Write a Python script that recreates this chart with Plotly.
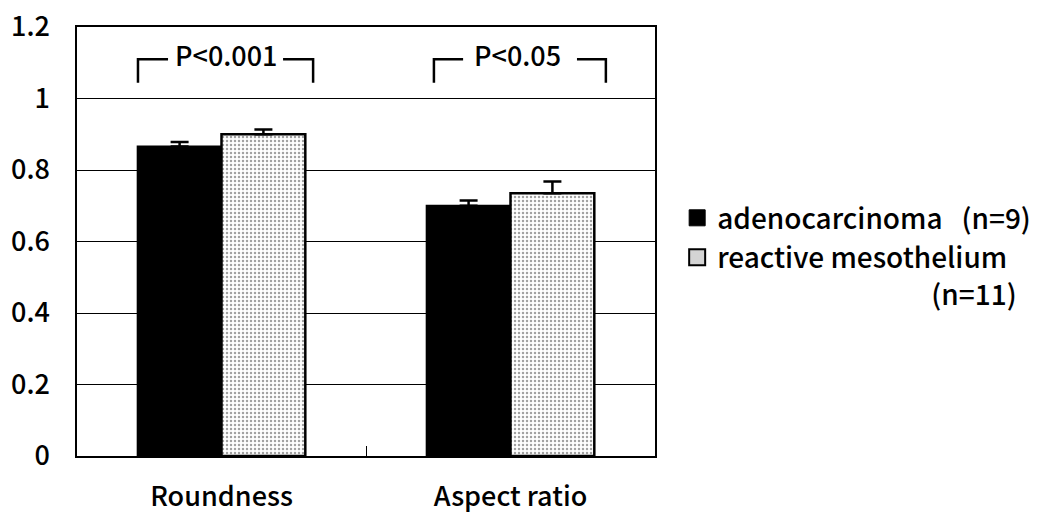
import plotly.graph_objects as go

categories = ["Roundness", "Aspect ratio"]
adeno_vals = [0.866, 0.700]
adeno_err = [0.012, 0.015]
meso_vals = [0.900, 0.735]
meso_err = [0.013, 0.033]
p_labels = ["P<0.001", "P<0.05"]
series_names = ["adenocarcinoma\u00a0\u00a0\u00a0(n=9)",
                "reactive mesothelium<br>" + "\u00a0" * 34 + "(n=11)"]
y_ticks = [0, 0.2, 0.4, 0.6, 0.8, 1.0, 1.2]
y_tick_text = ["0", "0.2", "0.4", "0.6", "0.8", "1", "1.2"]

FONT = "Noto Sans CJK JP"
W = 500

fig = go.Figure()
fig.add_trace(go.Bar(
    x=categories, y=adeno_vals, name=series_names[0], showlegend=False,
    marker=dict(color="black", line=dict(color="black", width=2)),
    error_y=dict(type="data", array=adeno_err, arrayminus=[0, 0],
                 symmetric=False, color="black", thickness=2.5, width=9),
))
fig.add_trace(go.Bar(
    x=categories, y=meso_vals, name=series_names[1], showlegend=False,
    marker=dict(color="white", line=dict(color="black", width=2.5),
                pattern=dict(shape=".", fgcolor="#444444", bgcolor="white",
                             size=4, solidity=0.3)),
    error_y=dict(type="data", array=meso_err, arrayminus=[0, 0],
                 symmetric=False, color="black", thickness=2.5, width=9),
))
# legend entries with larger square swatches
fig.add_trace(go.Scatter(x=[None], y=[None], mode="markers", name=series_names[0],
                         marker=dict(symbol="square", size=16, color="black",
                                     line=dict(color="black", width=1))))
fig.add_trace(go.Scatter(x=[None], y=[None], mode="markers", name=series_names[1],
                         marker=dict(symbol="square", size=16, color="#d4d4d4",
                                     line=dict(color="black", width=2))))

# significance brackets (offsets relative to category index)
br_left = [-0.289, -0.265]
br_right = [0.317, 0.330]
br_gap_l = [-0.185, -0.164]
br_gap_r = [0.213, 0.230]
txt_off = [0.019, 0.024]
y_low, y_high = 1.044, 1.11
for i, lab in enumerate(p_labels):
    fig.add_shape(type="path",
                  path=f"M {i+br_left[i]},{y_low} L {i+br_left[i]},{y_high} L {i+br_gap_l[i]},{y_high}",
                  xref="x", yref="y", line=dict(color="black", width=2.5))
    fig.add_shape(type="path",
                  path=f"M {i+br_gap_r[i]},{y_high} L {i+br_right[i]},{y_high} L {i+br_right[i]},{y_low}",
                  xref="x", yref="y", line=dict(color="black", width=2.5))
    fig.add_annotation(x=i + txt_off[i], y=y_high + 0.012, xref="x", yref="y",
                       text=lab, showarrow=False,
                       font=dict(size=27, color="black", family=FONT, weight=W))

fig.update_layout(
    width=1037, height=515,
    margin=dict(l=77, r=382, t=27, b=59),
    paper_bgcolor="white", plot_bgcolor="white",
    barmode="group", bargap=0.42, bargroupgap=0,
    font=dict(family=FONT, color="black", size=27, weight=W),
    showlegend=True,
    legend=dict(xref="container", yref="container", x=0.653, y=0.625,
                xanchor="left", yanchor="top",
                font=dict(size=28, family=FONT, weight=W), tracegroupgap=14,
                valign="top", itemwidth=30),
)
fig.update_xaxes(showline=True, linecolor="black", linewidth=1.5, mirror=True,
                 ticks="inside", tickson="boundaries", ticklen=10, tickcolor="black",
                 tickfont=dict(size=27, family=FONT, weight=W), ticklabelstandoff=16,
                 showgrid=False, automargin=False)
fig.update_yaxes(range=[0, 1.2], tickvals=y_ticks, ticktext=y_tick_text,
                 showline=True, linecolor="black", linewidth=1.5, mirror=True,
                 showgrid=True, gridcolor="black", gridwidth=1,
                 ticks="", tickfont=dict(size=27, family=FONT, weight=W),
                 ticklabelstandoff=20, zeroline=False, automargin=False)

fig.write_html("out.html", config={"displayModeBar": False},
               post_script="document.body.style.margin='0px';document.body.style.overflow='hidden';")
